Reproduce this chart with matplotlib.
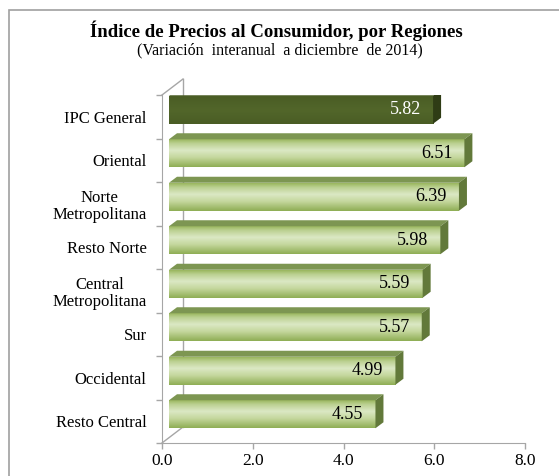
import matplotlib
matplotlib.use("Agg")
import matplotlib.pyplot as plt
import numpy as np
from matplotlib.patches import Polygon, Rectangle
from matplotlib.lines import Line2D
from matplotlib.colors import LinearSegmentedColormap

plt.rcParams['font.family'] = 'serif'
plt.rcParams['font.serif'] = ['Liberation Serif', 'DejaVu Serif']

# data
regiones = ["IPC General", "Oriental", "Norte\nMetropolitana", "Resto Norte",
            "Central\nMetropolitana", "Sur", "Occidental", "Resto Central"]
valores = [5.82, 6.51, 6.39, 5.98, 5.59, 5.57, 4.99, 4.55]
x_ticks = [0.0, 2.0, 4.0, 6.0, 8.0]

W, H, DPI = 559, 476, 100
fig = plt.figure(figsize=(W / DPI, H / DPI), dpi=DPI)

# plot area (front plane) in pixels
left_px, right_px, top_px, bot_px = 162, 525, 95, 443
ax = fig.add_axes([left_px / W, (H - bot_px) / H, (right_px - left_px) / W, (bot_px - top_px) / H])
n = len(regiones)
xmax = 8.0
px_x = (right_px - left_px) / xmax
px_y = (bot_px - top_px) / n

# 3d style offsets (pixels -> data units)
sh_x, sh_y = 7 / px_x, 7 / px_y        # bar plane shift
dep_x, dep_y = 8 / px_x, 6 / px_y      # bar depth
wall_x, wall_y = 21 / px_x, 16 / px_y  # side wall depth
hh = 14 / px_y                         # half height of bar

light = LinearSegmentedColormap.from_list("light", [
    (0.0, "#8fae55"), (0.35, "#c6d89f"), (0.6, "#dbe8c4"), (0.85, "#bcd192"), (1.0, "#9ab75f")])
dark = LinearSegmentedColormap.from_list("dark", ["#4a5d25", "#52662a", "#4a5d25"])

grad = np.linspace(0, 1, 64).reshape(-1, 1)
for i, (lab, v) in enumerate(zip(regiones, valores)):
    k = n - 1 - i
    x0, x1 = sh_x, v + sh_x
    y0, y1 = k + sh_y - hh, k + sh_y + hh
    cm = dark if i == 0 else light
    ax.imshow(grad, cmap=cm, extent=(x0, x1, y0, y1), aspect='auto', origin='lower', zorder=3)
    top_c = "#4c5f27" if i == 0 else "#7d9652"
    side_c = "#2f3c15" if i == 0 else "#62793a"
    ax.add_patch(Polygon([(x0, y1), (x1, y1), (x1 + dep_x, y1 + dep_y), (x0 + dep_x, y1 + dep_y)],
                         closed=True, fc=top_c, ec="none", zorder=3))
    ax.add_patch(Polygon([(x1, y0), (x1, y1), (x1 + dep_x, y1 + dep_y), (x1 + dep_x, y0 + dep_y)],
                         closed=True, fc=side_c, ec="none", zorder=3))
    ax.text(x1 - 12 / px_x, k + sh_y, f"{v:.2f}", ha='right', va='center', fontsize=13,
            color="white" if i == 0 else "black", zorder=4)

# side wall
gray = "#a6a6a6"
ax.add_line(Line2D([0, wall_x], [-0.5, -0.5 + wall_y], color=gray, lw=1, clip_on=False, zorder=1))
ax.add_line(Line2D([0, wall_x], [n - 0.5, n - 0.5 + wall_y], color=gray, lw=1, clip_on=False, zorder=1))
ax.add_line(Line2D([wall_x, wall_x], [-0.5 + wall_y, n - 0.5 + wall_y], color=gray, lw=1,
                   clip_on=False, zorder=1))

ax.set_xlim(0, xmax)
ax.set_ylim(-0.5, n - 0.5)
ax.set_xticks(x_ticks)
ax.set_xticklabels([f"{t:.1f}" for t in x_ticks], fontsize=12.5)
ax.set_yticks(range(n))
ax.set_yticklabels(regiones[::-1], fontsize=12, linespacing=1.1)
for t in ax.get_yticklabels():
    t.set_multialignment('center')
ax.set_yticks(np.arange(-0.5, n, 1.0), minor=True)
ax.tick_params(axis='y', which='major', length=0, pad=11)
ax.tick_params(axis='y', which='minor', length=4, color=gray, width=1)
ax.tick_params(axis='x', length=4, color=gray, width=1, pad=3)
for s in ['top', 'right']:
    ax.spines[s].set_visible(False)
for s in ['left', 'bottom']:
    ax.spines[s].set_color(gray)
ax.set_facecolor("none")

fig.text(276 / W, 1 - 31 / H, "Índice de Precios al Consumidor, por Regiones", ha='center', va='center',
         fontsize=13.5, fontweight='bold')
fig.text(280 / W, 1 - 50 / H, "(Variación  interanual  a diciembre  de 2014)", ha='center', va='center',
         fontsize=11.5)

fig.add_artist(Rectangle((9 / W, -0.1), 1.2, (H - 9.5) / H + 0.1, transform=fig.transFigure,
                         fill=False, ec="#a0a0a0", lw=1.2))

fig.savefig("out.png", dpi=DPI)
